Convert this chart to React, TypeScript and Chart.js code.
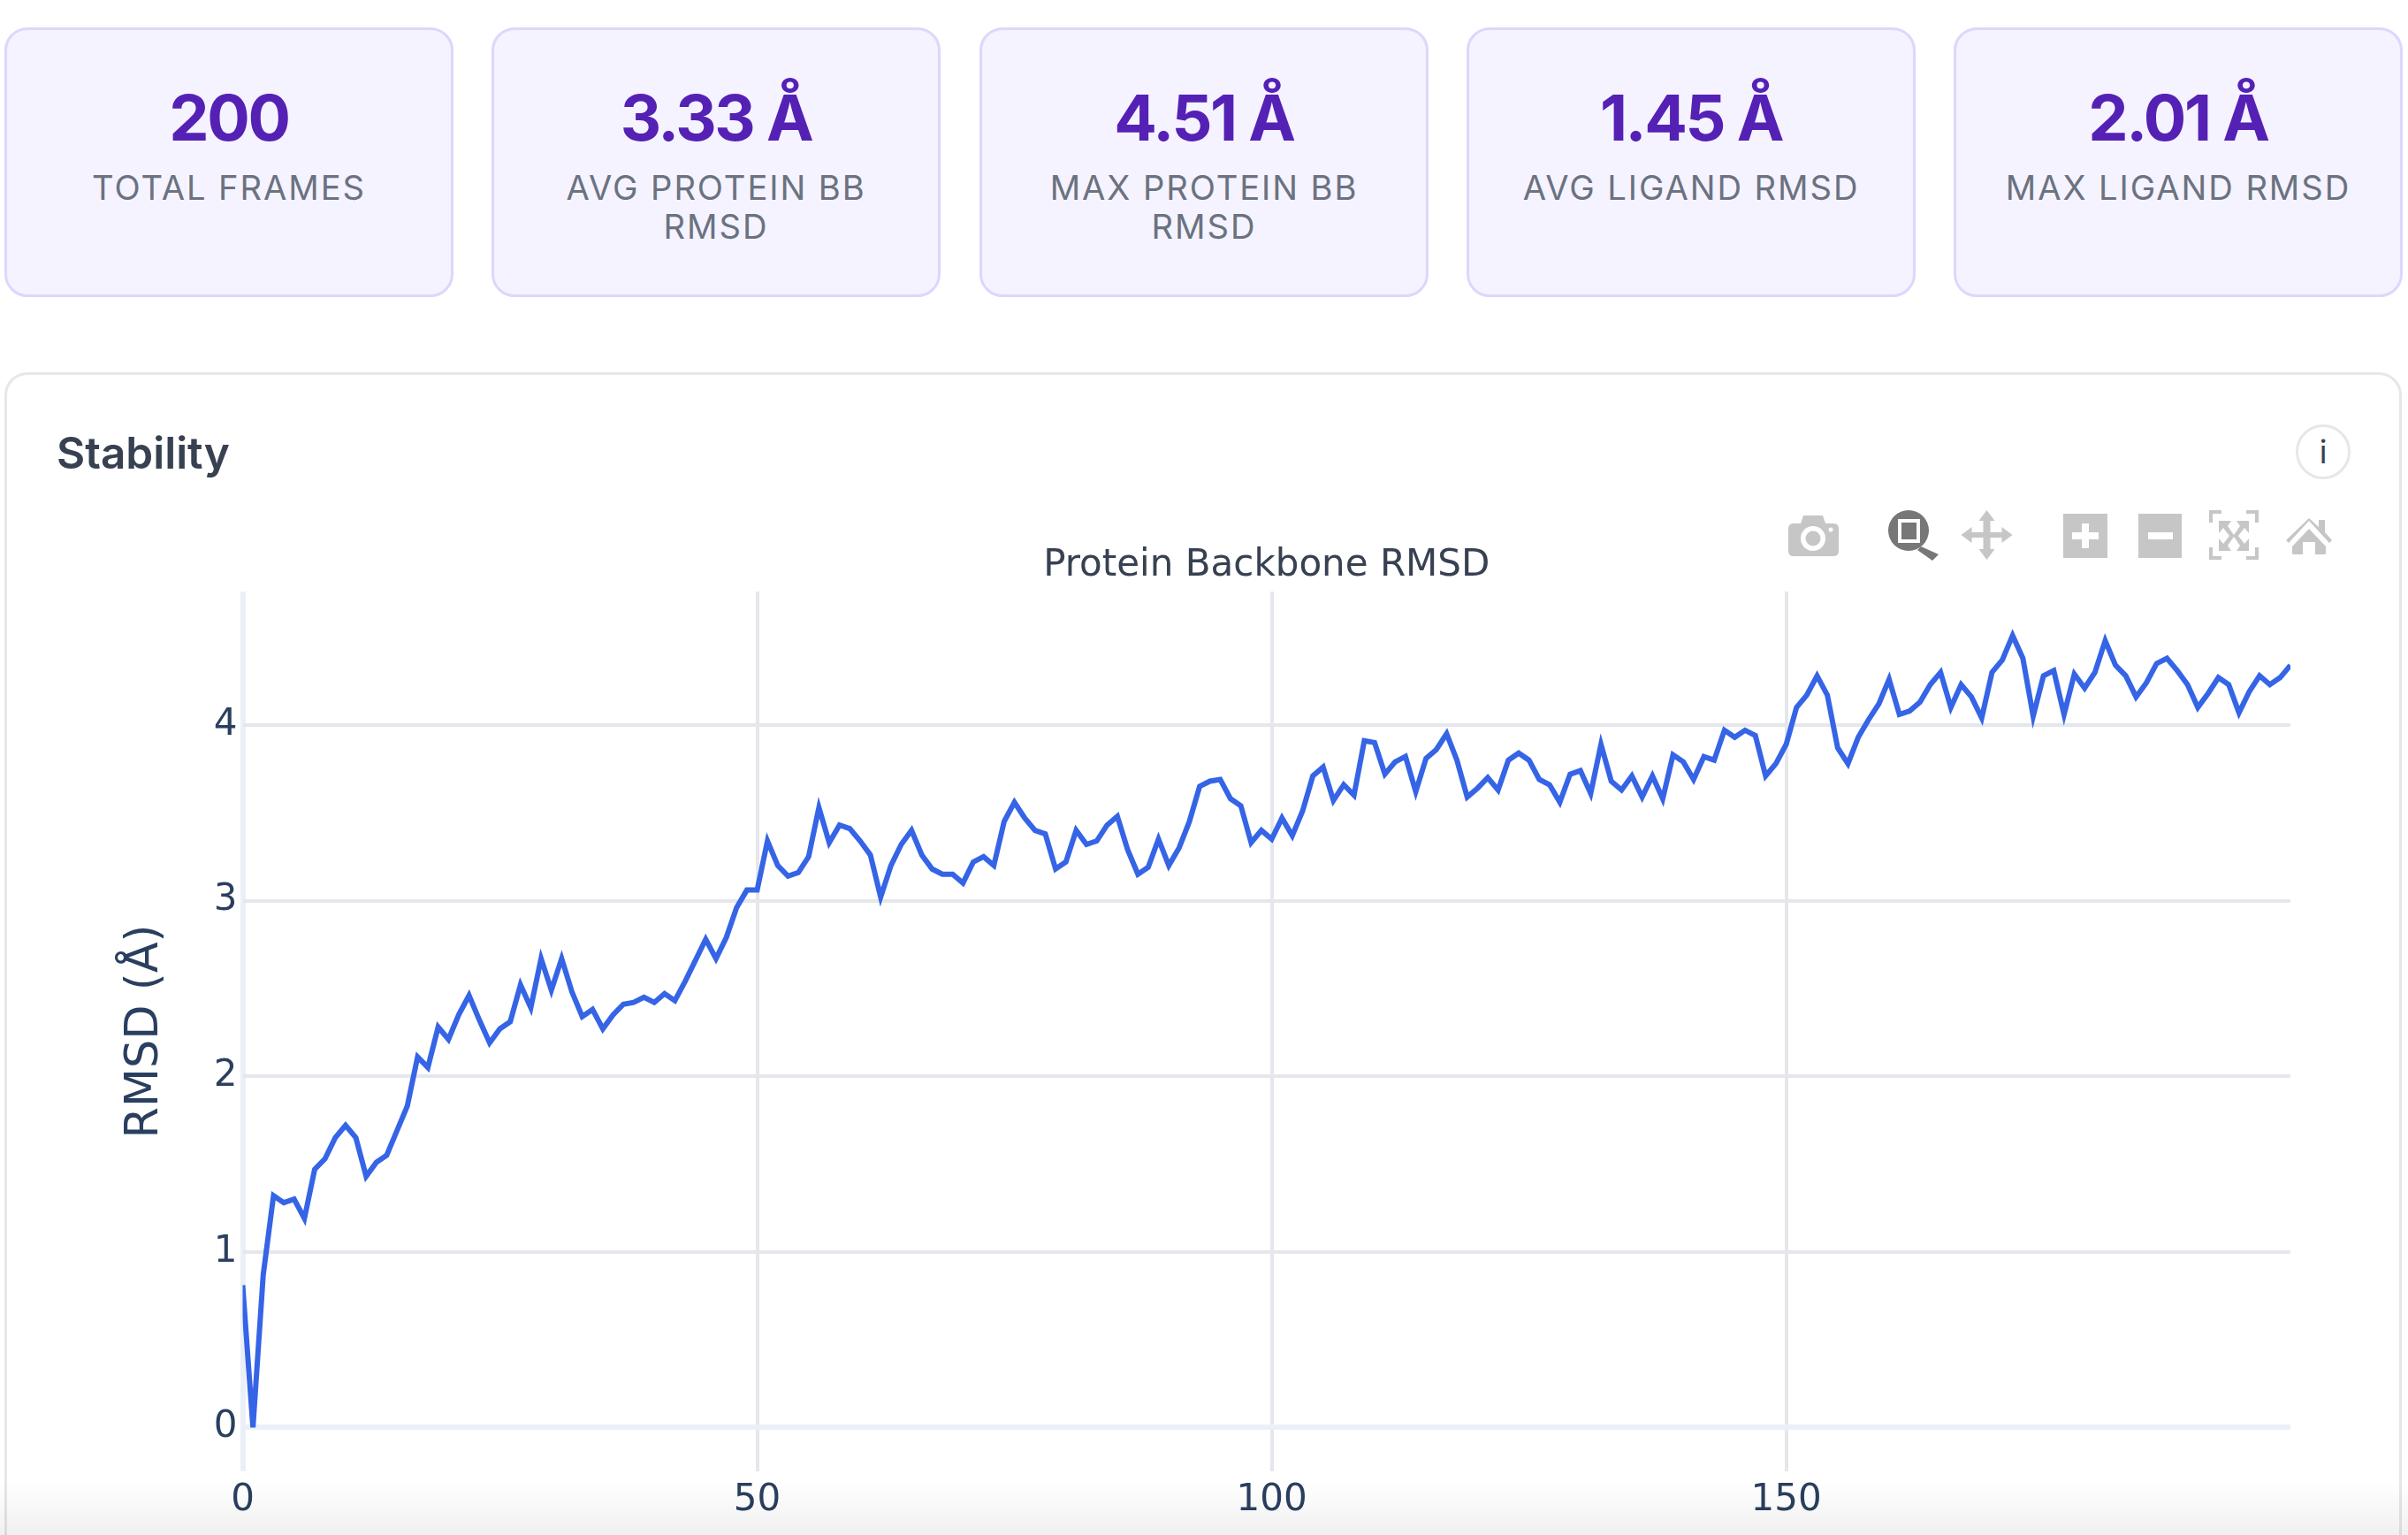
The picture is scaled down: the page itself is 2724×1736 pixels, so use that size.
import React, { useEffect, useRef } from "react";
import { Chart, registerables } from "chart.js";

Chart.register(...registerables);

const statValues = ["200", "3.33 Å", "4.51 Å", "1.45 Å", "2.01 Å"];
const statLabels = ["TOTAL FRAMES", "AVG PROTEIN BB RMSD", "MAX PROTEIN BB RMSD", "AVG LIGAND RMSD", "MAX LIGAND RMSD"];
const sectionTitle = "Stability";
const chartTitle = "Protein Backbone RMSD";
const yAxisTitle = "RMSD (Å)";
const xTickValues = [0, 50, 100, 150];
const yTickValues = [0, 1, 2, 3, 4];

const rmsd = [
  0.81, 0.0, 0.87, 1.32, 1.28, 1.30, 1.19, 1.47, 1.53, 1.65,
  1.72, 1.65, 1.43, 1.51, 1.55, 1.69, 1.83, 2.11, 2.05, 2.28,
  2.21, 2.35, 2.46, 2.32, 2.19, 2.27, 2.31, 2.52, 2.39, 2.67,
  2.49, 2.67, 2.48, 2.34, 2.38, 2.27, 2.35, 2.41, 2.42, 2.45,
  2.42, 2.47, 2.43, 2.54, 2.66, 2.78, 2.67, 2.79, 2.96, 3.06,
  3.06, 3.34, 3.20, 3.14, 3.16, 3.25, 3.53, 3.33, 3.43, 3.41,
  3.34, 3.26, 3.02, 3.20, 3.32, 3.40, 3.26, 3.18, 3.15, 3.15,
  3.10, 3.22, 3.25, 3.20, 3.45, 3.56, 3.47, 3.40, 3.38, 3.18,
  3.22, 3.40, 3.32, 3.34, 3.43, 3.48, 3.29, 3.15, 3.19, 3.35,
  3.20, 3.30, 3.45, 3.65, 3.68, 3.69, 3.58, 3.54, 3.33, 3.40,
  3.35, 3.47, 3.37, 3.51, 3.71, 3.76, 3.57, 3.66, 3.60, 3.91,
  3.90, 3.72, 3.79, 3.82, 3.62, 3.81, 3.86, 3.95, 3.80, 3.59,
  3.64, 3.70, 3.63, 3.80, 3.84, 3.80, 3.69, 3.66, 3.56, 3.72,
  3.74, 3.61, 3.89, 3.68, 3.63, 3.71, 3.59, 3.71, 3.58, 3.83,
  3.79, 3.69, 3.82, 3.80, 3.97, 3.93, 3.97, 3.94, 3.71, 3.78,
  3.89, 4.10, 4.17, 4.28, 4.17, 3.87, 3.78, 3.93, 4.03, 4.12,
  4.26, 4.06, 4.08, 4.13, 4.23, 4.30, 4.10, 4.23, 4.16, 4.04,
  4.30, 4.37, 4.51, 4.38, 4.05, 4.28, 4.31, 4.06, 4.29, 4.21,
  4.30, 4.48, 4.34, 4.28, 4.16, 4.24, 4.35, 4.38, 4.31, 4.23,
  4.10, 4.18, 4.27, 4.23, 4.07, 4.19, 4.28, 4.23, 4.27, 4.34,
];

const TICK = "#2a3f5f";
const GRID = "#e6e7ec";
const ZERO = "#ebf0f8";

const cardLefts = [5, 556, 1108, 1659, 2210];

function Icons() {
  const g = "#c6c6c6";
  const d = "#777777";
  return (
    <svg width={2724} height={1736} style={{ position: "absolute", left: 0, top: 0, pointerEvents: "none" }}>
      {/* camera */}
      <path fill={g} d="M2029 592 h8 l3 -9 h22 l3 9 h9 q6 0 6 6 v25 q0 6 -6 6 h-45 q-6 0 -6 -6 v-25 q0 -6 6 -6 z" />
      <circle cx={2051} cy={609} r={14} fill="#fff" />
      <circle cx={2051} cy={609} r={8.5} fill={g} />
      <circle cx={2071} cy={599} r={2.5} fill="#fff" />
      {/* zoom */}
      <circle cx={2159} cy={600} r={23} fill={d} />
      <path fill={d} d="M2173 618 L2193 627 L2186 634 L2169 622 Z" />
      <rect x={2149} y={589} width={21} height={23} fill={d} stroke="#fff" strokeWidth={4} />
      {/* pan */}
      <g transform="translate(-2 0)">
        <path fill={g} d="M2249.5 577 l9 12 h-5 v13 h13 v-6 l12 9 l-12 9 v-6 h-13 v13 h5 l-9 12 l-9 -12 h5 v-13 h-13 v6 l-12 -9 l12 -9 v6 h13 v-13 h-5 z" />
      </g>
      {/* zoom in */}
      <g transform="translate(-3 0)">
        <rect x={2337} y={581} width={50} height={50} fill={g} />
        <path fill="#fff" d="M2358 592 h8 v10 h11 v8 h-11 v10 h-8 v-10 h-11 v-8 h11 z" />
      </g>
      {/* zoom out */}
      <g transform="translate(-3 0)">
        <rect x={2422} y={581} width={49} height={50} fill={g} />
        <rect x={2433} y={602} width={28} height={8} fill="#fff" />
      </g>
      {/* autoscale */}
      <g transform="translate(-4 0)">
        <path fill={g} d="M2503 577 h14 v4 h-10 v10 h-4 z M2545 577 h14 v14 h-4 v-10 h-10 z M2503 619 h4 v10 h10 v4 h-14 z M2555 619 h4 v14 h-14 v-4 h10 z" />
        <path fill={g} d="M2514 589 h14 l-4 6 l7 10 l7 -10 l-4 -6 h14 v14 l-5 -6 l-7 9 l7 9 l5 -6 v14 h-14 l4 -6 l-7 -10 l-7 10 l4 6 h-14 v-14 l5 6 l7 -9 l-7 -9 l-5 6 z" />
      </g>
      {/* home */}
      <g transform="translate(-3 0)">
        <path fill={g} d="M2615 586 l11 10 v-8 h7 v14 l8 9 l-3 3 l-23 -25 l-23 25 l-3 -3 z" />
        <path fill={g} d="M2615 598 l19 20 v8 q0 1 -1 1 h-11 v-14 h-14 v14 h-11 q-1 0 -1 -1 v-8 z" />
      </g>
    </svg>
  );
}

export default function App() {
  const ref = useRef<HTMLCanvasElement | null>(null);

  useEffect(() => {
    document.body.style.margin = "0";
    document.body.style.overflow = "hidden";
    const chart = new Chart(ref.current as HTMLCanvasElement, {
      type: "line",
      data: {
        datasets: [
          {
            label: chartTitle,
            data: rmsd.map((y, i) => ({ x: i, y })),
            borderColor: "#3564e6",
            borderWidth: 6,
            pointRadius: 0,
            tension: 0,
            fill: false,
            borderJoinStyle: "miter",
          },
        ],
      },
      options: {
        animation: false,
        responsive: false,
        devicePixelRatio: 1,
        events: [],
        layout: { padding: { left: 0, top: 0, right: 133, bottom: 0 } },
        plugins: {
          legend: { display: false },
          tooltip: { enabled: false },
          title: {
            display: true,
            text: chartTitle,
            fullSize: false,
            color: "#374151",
            font: { family: "'DejaVu Sans'", size: 42, weight: "normal", lineHeight: 1.2 },
            padding: { top: 615, bottom: 3.6 },
          },
        },
        scales: {
          x: {
            type: "linear",
            min: 0,
            max: 199,
            afterBuildTicks: (s: any) => {
              s.ticks = xTickValues.map((value) => ({ value }));
            },
            afterFit: (s: any) => {
              s.height = 72;
            },
            border: { display: false },
            grid: {
              drawTicks: false,
              color: (c: any) => (c.tick && c.tick.value === 0 ? ZERO : GRID),
              lineWidth: (c: any) => (c.tick && c.tick.value === 0 ? 6 : 4),
            },
            ticks: {
              color: TICK,
              padding: 8,
              maxRotation: 0,
              autoSkip: false,
              font: { family: "'DejaVu Sans'", size: 42 },
            },
          },
          y: {
            type: "linear",
            min: -0.25,
            max: 4.76,
            afterBuildTicks: (s: any) => {
              s.ticks = yTickValues.map((value) => ({ value }));
            },
            afterFit: (s: any) => {
              s.width = 274.5;
            },
            border: { display: false },
            grid: {
              drawTicks: false,
              color: (c: any) => (c.tick && c.tick.value === 0 ? ZERO : GRID),
              lineWidth: (c: any) => (c.tick && c.tick.value === 0 ? 6 : 4),
            },
            ticks: {
              color: TICK,
              padding: 6,
              autoSkip: false,
              font: { family: "'DejaVu Sans'", size: 42 },
            },
            title: {
              display: true,
              text: yAxisTitle,
              color: TICK,
              font: { family: "'DejaVu Sans'", size: 51, lineHeight: 1.2 },
              padding: { top: 134, bottom: 0 },
            },
          },
        },
      },
    } as any);
    return () => chart.destroy();
  }, []);

  return (
    <div style={{ position: "absolute", left: 0, top: 0, width: 2724, height: 1736, overflow: "hidden", background: "#fff", fontFamily: "Inter" }}>
      {statValues.map((v, i) => (
        <div
          key={statLabels[i]}
          style={{
            position: "absolute",
            left: cardLefts[i],
            top: 31,
            width: 508,
            height: 305,
            boxSizing: "border-box",
            background: "#f5f3ff",
            border: "3px solid #ddd6fe",
            borderRadius: 26,
            textAlign: "center",
            paddingTop: 61,
          }}
        >
          <div style={{ fontSize: 72, fontWeight: 700, lineHeight: "76px", letterSpacing: "-2.4px", color: "#5521b5" }}>{v}</div>
          <div style={{ marginTop: 19, padding: "0 30px", fontSize: 38.2, lineHeight: "44px", letterSpacing: "0.05em", color: "#6b7280" }}>{statLabels[i]}</div>
        </div>
      ))}
      <div
        style={{
          position: "absolute",
          left: 5,
          top: 421,
          width: 2712,
          height: 1400,
          boxSizing: "border-box",
          border: "3px solid #e5e7eb",
          borderRadius: 26,
          background: "#fff",
        }}
      />
      <div style={{ position: "absolute", left: 64, top: 482, fontSize: 49.5, lineHeight: "60px", fontWeight: 600, color: "#374151" }}>{sectionTitle}</div>
      <div
        style={{
          position: "absolute",
          left: 2597,
          top: 480,
          width: 62,
          height: 62,
          boxSizing: "border-box",
          border: "3px solid #e5e7eb",
          borderRadius: "50%",
          textAlign: "center",
          fontSize: 36,
          lineHeight: "56px",
          color: "#374151",
        }}
      >
        i
      </div>
      <canvas ref={ref} width={2724} height={1736} style={{ position: "absolute", left: 0, top: 0, width: 2724, height: 1736 }} />
      <Icons />
      <div style={{ position: "absolute", left: 0, top: 1676, width: 2724, height: 60, background: "linear-gradient(to bottom, rgba(0,0,0,0), rgba(0,0,0,0.06))", pointerEvents: "none" }} />
    </div>
  );
}
